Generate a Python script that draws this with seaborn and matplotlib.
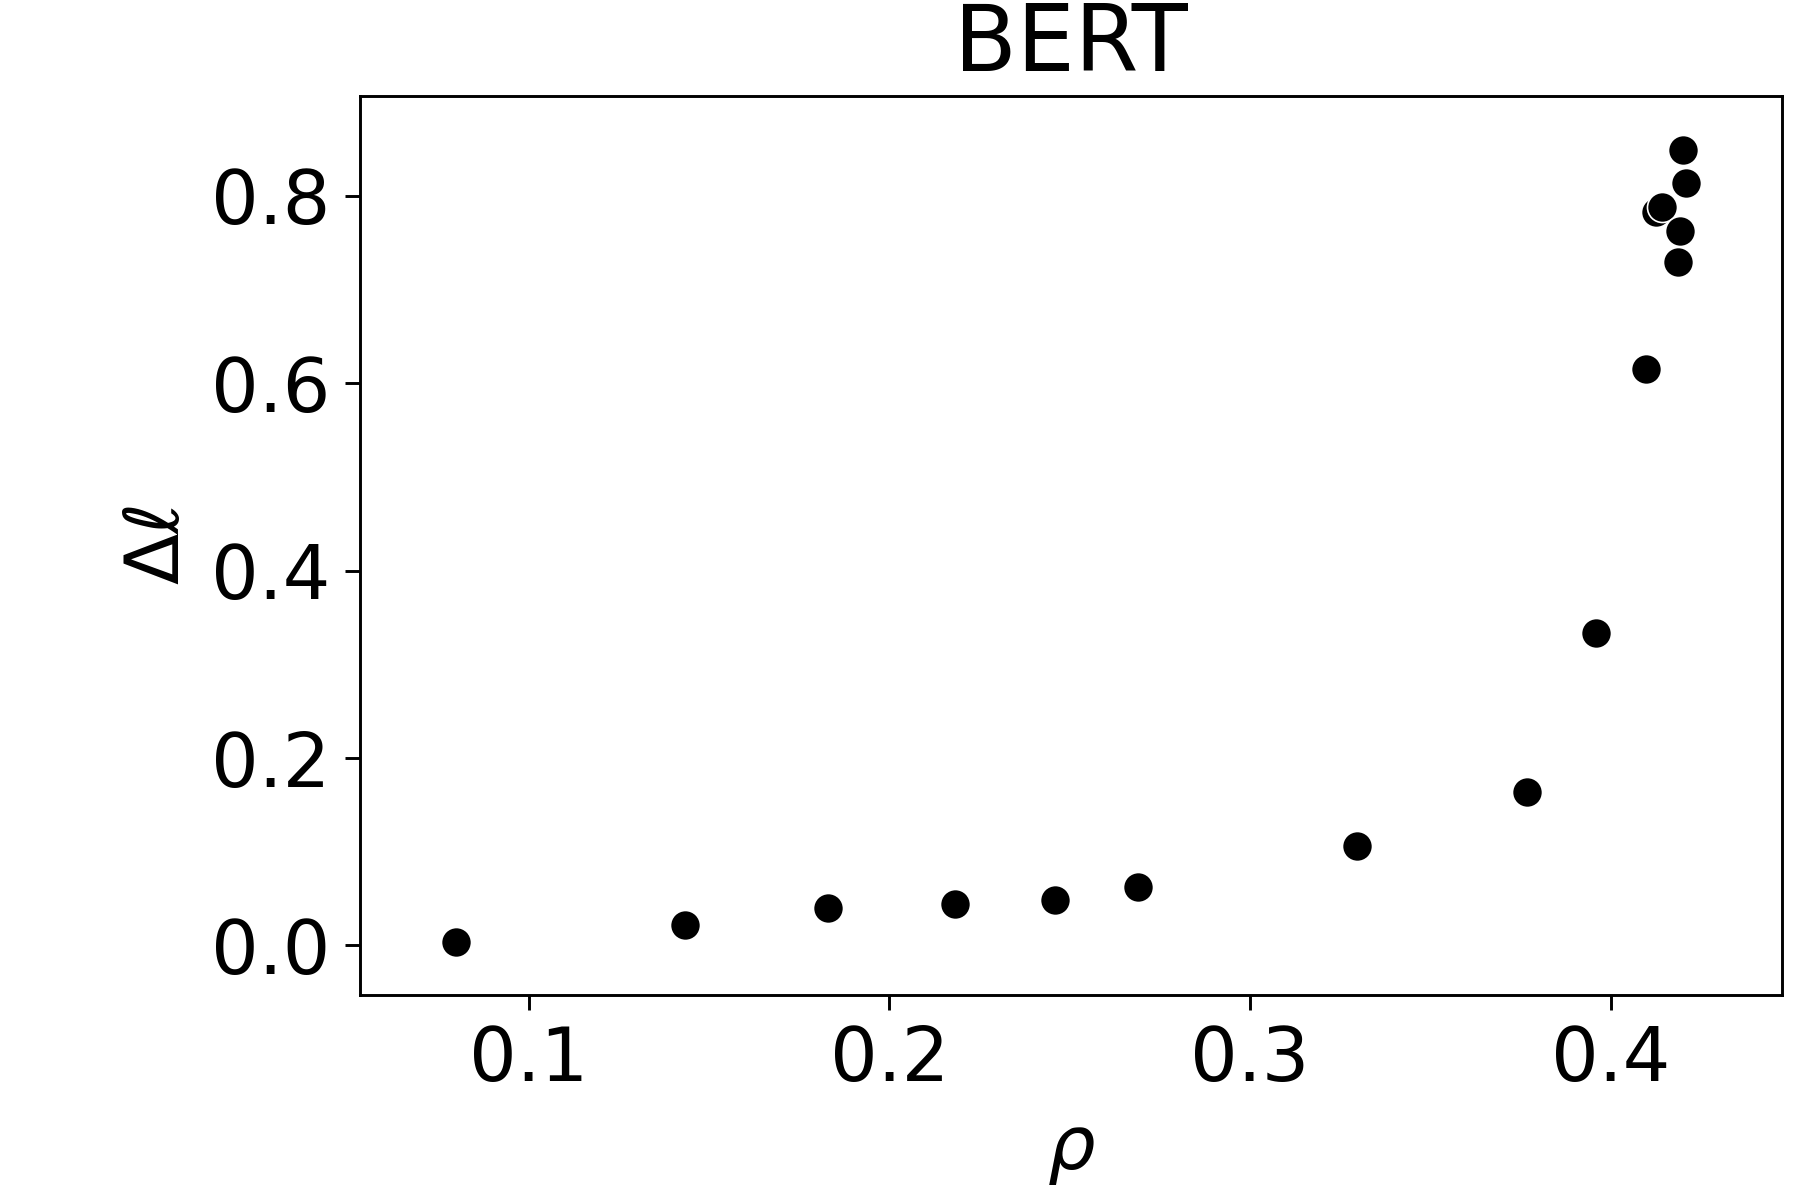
import numpy as np
import pandas as pd
import matplotlib
matplotlib.use("Agg")
import matplotlib.pyplot as plt
import seaborn as sns

# values
rho = [0.0799, 0.1433, 0.1831, 0.2182, 0.2459, 0.2688, 0.3296, 0.3768,
       0.3959, 0.4099, 0.4127, 0.4143, 0.4201, 0.4210, 0.4191, 0.4188]
delta_l = [0.004, 0.022, 0.040, 0.044, 0.049, 0.0625, 0.1066, 0.164,
           0.333, 0.615, 0.783, 0.788, 0.849, 0.814, 0.762, 0.729]
x_ticks = [0.1, 0.2, 0.3, 0.4]
y_ticks = [0.0, 0.2, 0.4, 0.6, 0.8]

df = pd.DataFrame({"rho": rho, "dl": delta_l})

sns.set_style("ticks")
plt.rcParams['font.family'] = ['DejaVu Sans']
plt.rcParams['text.color'] = 'black'
plt.rcParams['axes.labelcolor'] = 'black'

fig = plt.figure(figsize=(6, 4), dpi=300)
ax = fig.add_axes([0.2, 0.171, 0.79, 0.749])
sns.scatterplot(data=df, x="rho", y="dl", ax=ax, color="black", s=52,
                edgecolor="white", linewidth=0.4)

ax.set_xlim(0.0532, 0.4475)
ax.set_ylim(-0.0527, 0.9066)
ax.set_xticks(x_ticks)
ax.set_yticks(y_ticks)
ax.set_xticklabels([f"{t:.1f}" for t in x_ticks])
ax.set_yticklabels([f"{t:.1f}" for t in y_ticks])
ax.tick_params(labelsize=18, length=3.5, width=0.7, colors="black")
ax.set_xlabel(r"$\rho$", fontsize=18, color="black")
ax.set_ylabel(r"$\Delta\ell$", fontsize=18, color="black")
ax.set_title("BERT", fontsize=22, color="black")
for sp in ax.spines.values():
    sp.set_linewidth(0.7)
    sp.set_color("black")

fig.savefig("out.png", dpi=300)
